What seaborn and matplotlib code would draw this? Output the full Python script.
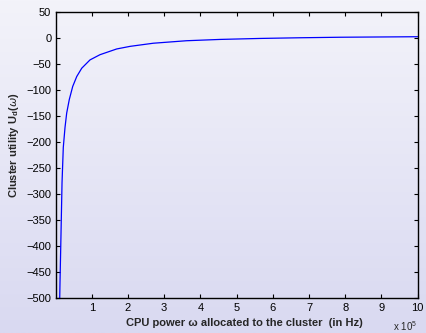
import numpy as np
import matplotlib
matplotlib.use("Agg")
import matplotlib.pyplot as plt
import seaborn as sns
import pandas as pd

# CPU power (in units of 1e5 Hz) and cluster utility
cpu_power = [0.116, 0.124, 0.152, 0.18, 0.215, 0.262, 0.309, 0.381, 0.475, 0.586,
             0.724, 0.953, 1.229, 1.69, 2.06, 2.70, 3.62, 4.54, 5.65, 6.75, 7.86, 10.0]
utility = [-500, -470, -375, -278, -210, -172, -144, -118, -93, -74,
           -58, -42, -32, -21, -16, -10, -5.2, -2.7, -0.8, 0.5, 1.5, 2.5]
x_ticks = [1, 2, 3, 4, 5, 6, 7, 8, 9, 10]
y_ticks = list(range(-500, 51, 50))

df = pd.DataFrame({"power": cpu_power, "utility": utility})

sns.set_style("ticks")
plt.rcParams["font.family"] = ["Liberation Sans", "DejaVu Sans"]
plt.rcParams["mathtext.fontset"] = "custom"
plt.rcParams["mathtext.rm"] = "Liberation Sans"
plt.rcParams["mathtext.bf"] = "Liberation Sans:bold"

fig = plt.figure(figsize=(4.27, 3.33), dpi=100)

# lavender gradient background like the MATLAB export
bg = fig.add_axes([0, 0, 1, 1], zorder=-1)
top = np.array([243, 243, 250]) / 255
bot = np.array([217, 217, 241]) / 255
t = np.linspace(0, 1, 256)[:, None]
grad = (top[None, :] * (1 - t) + bot[None, :] * t)[:, None, :]
bg.imshow(grad, aspect="auto", extent=[0, 1, 0, 1])
bg.axis("off")

ax = fig.add_axes([0.130, 0.104, 0.848, 0.860])
ax.patch.set_alpha(0)
sns.lineplot(data=df, x="power", y="utility", color="#0000ff", linewidth=0.9, ax=ax)

ax.set_xlim(0, 10)
ax.set_ylim(-500, 50)
ax.set_xticks(x_ticks)
ax.set_yticks(y_ticks)
ax.set_xticklabels([str(v) for v in x_ticks])
ax.set_yticklabels([str(v).replace("-", "\u2212") for v in y_ticks])
ax.tick_params(direction="in", length=3, width=0.8, labelsize=8, colors="black",
               top=True, right=True, pad=3)
for s in ax.spines.values():
    s.set_visible(True)
    s.set_linewidth(1.0)
    s.set_color("black")
ax.set_xlabel("")
ax.set_ylabel("")

fig.text(244 / 427, 1 - 323 / 333, "CPU power \u03c9 allocated to the cluster  (in Hz)",
         ha="center", va="center", fontsize=8, fontweight="bold")
fig.text(14 / 427, 1 - 145 / 333, r"Cluster utility U$_\mathbf{d}$($\omega$)",
         ha="center", va="center", rotation=90, fontsize=8, fontweight="bold")
fig.text(393 / 427, 1 - 326 / 333, r"x 10$^5$", ha="left", va="center", fontsize=7)

fig.savefig("out.png", dpi=100)
